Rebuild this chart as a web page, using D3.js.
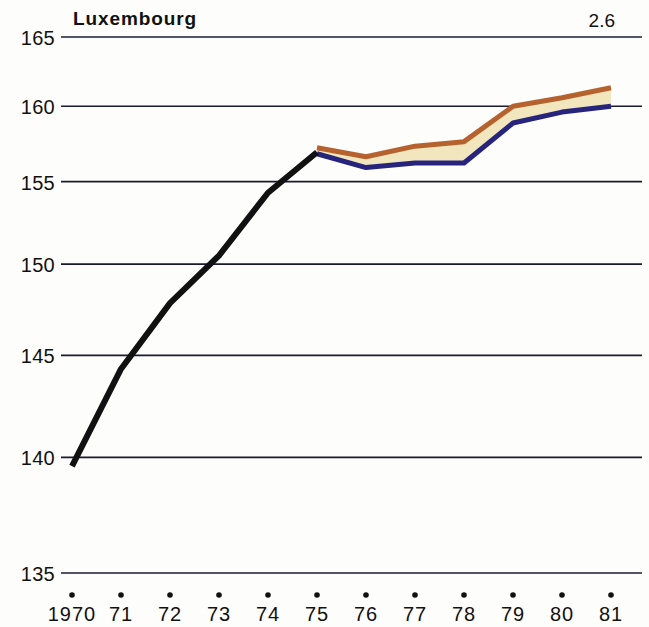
<!DOCTYPE html>
<html>
<head>
<meta charset="utf-8">
<script src="https://cdn.jsdelivr.net/npm/d3@7"></script>
<style>
  body { margin: 0; background: #fdfdfb; }
  svg { display: block; font-family: "Liberation Sans", Arial, sans-serif; }
</style>
</head>
<body>
<div class="chart"></div>
<script>
const years = ["1970", "71", "72", "73", "74", "75", "76", "77", "78", "79", "80", "81"];
const yTicks = [135, 140, 145, 150, 155, 160, 165];

// observed 1970-75
const histYears = ["1970", "71", "72", "73", "74", "75"];
const histValues = [139.6, 144.3, 147.8, 150.5, 154.3, 156.9];

// band 1975-81
const bandYears = ["75", "76", "77", "78", "79", "80", "81"];
const upperValues = [157.2, 156.6, 157.3, 157.6, 160.0, 160.6, 161.3];
const lowerValues = [156.8, 155.9, 156.2, 156.2, 158.85, 159.6, 160.0];

const title = "Luxembourg";
const figNo = "2.6";

const width = 649, height = 627;

const svg = d3.select(".chart")
    .append("svg")
    .attr("width", width)
    .attr("height", height);

const x = d3.scalePoint()
    .domain(years)
    .range([72, 611]);

// the vertical axis is logarithmic on (value - 100)
const base = 100;
const yLog = d3.scaleLog()
    .domain([135 - base, 165 - base])
    .range([573, 37]);
const y = v => yLog(v - base);

// gridlines + labels
const grid = svg.append("g");
grid.selectAll("line")
    .data(yTicks)
    .enter()
    .append("line")
    .attr("x1", 61)
    .attr("x2", 642)
    .attr("y1", d => y(d))
    .attr("y2", d => y(d))
    .attr("stroke", "#1b1b2e")
    .attr("stroke-width", 1.6);

grid.selectAll("text")
    .data(yTicks)
    .enter()
    .append("text")
    .attr("x", 55)
    .attr("y", d => y(d))
    .attr("dy", "0.4em")
    .attr("text-anchor", "end")
    .attr("fill", "#111")
    .style("font-size", "20px")
    .style("letter-spacing", "0.3px")
    .text(d => d);

// x axis: dots and year labels
const xg = svg.append("g");
xg.selectAll("circle")
    .data(years)
    .enter()
    .append("circle")
    .attr("cx", d => x(d))
    .attr("cy", 595)
    .attr("r", 2.8)
    .attr("fill", "#111");

xg.selectAll("text")
    .data(years)
    .enter()
    .append("text")
    .attr("x", d => x(d))
    .attr("y", 621)
    .attr("text-anchor", "middle")
    .attr("fill", "#111")
    .style("font-size", "20px")
    .style("letter-spacing", "1px")
    .text(d => d);

// band
const band = bandYears.map((yr, i) => ({ yr: yr, hi: upperValues[i], lo: lowerValues[i] }));

svg.append("path")
    .datum(band)
    .attr("fill", "#f1e6bd")
    .attr("d", d3.area()
        .x(d => x(d.yr))
        .y0(d => y(d.lo))
        .y1(d => y(d.hi)));

svg.append("path")
    .datum(band)
    .attr("fill", "none")
    .attr("stroke", "#27247e")
    .attr("stroke-width", 5)
    .attr("stroke-linejoin", "round")
    .attr("d", d3.line().x(d => x(d.yr)).y(d => y(d.lo)));

svg.append("path")
    .datum(band)
    .attr("fill", "none")
    .attr("stroke", "#b5622e")
    .attr("stroke-width", 5)
    .attr("stroke-linejoin", "round")
    .attr("d", d3.line().x(d => x(d.yr)).y(d => y(d.hi)));

// history line
svg.append("path")
    .datum(histYears.map((yr, i) => ({ yr: yr, v: histValues[i] })))
    .attr("fill", "none")
    .attr("stroke", "#111")
    .attr("stroke-width", 6)
    .attr("stroke-linejoin", "round")
    .attr("d", d3.line().x(d => x(d.yr)).y(d => y(d.v)));

// title
svg.append("text")
    .attr("x", 73)
    .attr("y", 25)
    .attr("fill", "#111")
    .style("font-size", "19px")
    .style("font-weight", "bold")
    .style("letter-spacing", "0.9px")
    .text(title);

svg.append("text")
    .attr("x", 615)
    .attr("y", 27)
    .attr("text-anchor", "end")
    .attr("fill", "#111")
    .style("font-size", "19px")
    .text(figNo);
</script>
</body>
</html>
